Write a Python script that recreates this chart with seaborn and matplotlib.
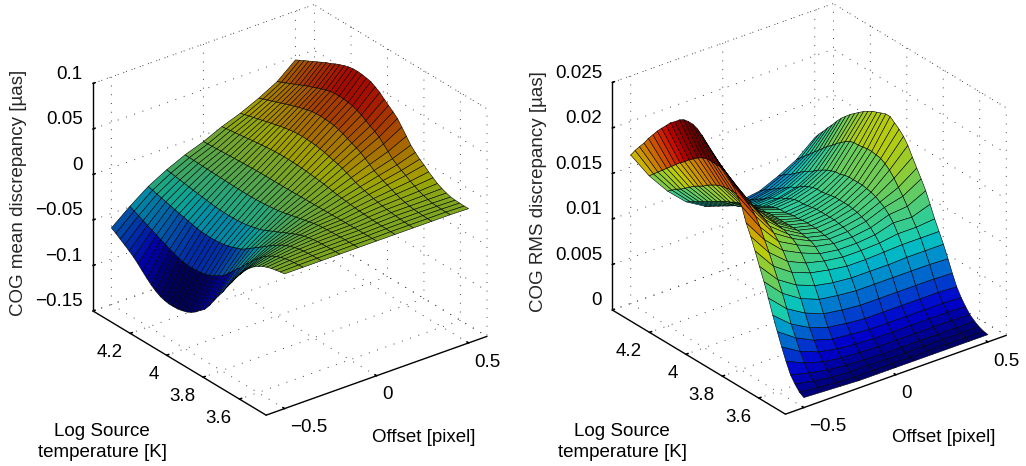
import numpy as np
import matplotlib
matplotlib.use('Agg')
import matplotlib.pyplot as plt
import seaborn as sns
from mpl_toolkits.mplot3d import proj3d

sns.set_theme(style='white', rc={'grid.color': '#444444', 'grid.linestyle': (0, (1, 8)), 'grid.linewidth': 0.7})
plt.rcParams['font.family'] = ['Liberation Sans', 'DejaVu Sans']

offsets = [-0.5, -0.4, -0.3, -0.2, -0.1, 0.0, 0.1, 0.2, 0.3, 0.4, 0.5]

log_temp = [4.404, 4.380, 4.356, 4.331, 4.307, 4.282, 4.258, 4.234, 4.209, 4.185,
            4.161, 4.136, 4.112, 4.088, 4.063, 4.039, 4.014, 3.990, 3.966, 3.941,
            3.917, 3.893, 3.868, 3.844, 3.820, 3.795, 3.771, 3.746, 3.722, 3.698,
            3.673, 3.649, 3.625, 3.600, 3.576, 3.552, 3.527, 3.503, 3.478, 3.454]

# one line per offset, hot end of the temperature range first
mean_disc = [
    [-.066, -.069, -.0725, -.076, -.0795, -.0835, -.088, -.093, -.098, -.1025, -.106, -.109, -.1105, -.1115, -.1115, -.1112, -.110, -.1085, -.106, -.1025, -.098, -.094, -.087, -.079, -.071, -.0635, -.055, -.047, -.039, -.032, -.025, -.0195, -.015, -.0115, -.0085, -.0065, -.0048, -.0038, -.0028, -.002],
    [-.0495, -.0518, -.0541, -.0565, -.0588, -.0612, -.0634, -.0658, -.0676, -.07, -.0718, -.0737, -.0751, -.0758, -.076, -.0758, -.075, -.074, -.0723, -.0698, -.0668, -.0641, -.0593, -.0539, -.0484, -.0433, -.0375, -.0321, -.0266, -.0218, -.017, -.0133, -.0103, -.0078, -.0058, -.0044, -.0033, -.0028, -.0024, -.002],
    [-.0348, -.0361, -.0375, -.0388, -.0401, -.0415, -.0428, -.0441, -.0452, -.0465, -.0476, -.0487, -.0495, -.0499, -.05, -.0499, -.0494, -.0487, -.0476, -.046, -.044, -.0422, -.039, -.0355, -.0319, -.0285, -.0247, -.0211, -.0175, -.0144, -.0112, -.0088, -.0068, -.0052, -.004, -.0032, -.0027, -.0024, -.0022, -.002],
    [-.0237, -.0245, -.0253, -.0261, -.027, -.0278, -.0286, -.0294, -.0301, -.0309, -.0315, -.0322, -.0327, -.0329, -.033, -.0329, -.0326, -.0321, -.0314, -.0303, -.029, -.0278, -.0257, -.0234, -.021, -.0188, -.0163, -.0139, -.0116, -.0095, -.0074, -.0058, -.0046, -.0036, -.003, -.0026, -.0024, -.0022, -.0021, -.002],
    [-.0145, -.0147, -.0149, -.0152, -.0154, -.0156, -.0158, -.016, -.0162, -.0164, -.0166, -.0168, -.0169, -.017, -.017, -.017, -.0168, -.0165, -.0162, -.0156, -.0149, -.0143, -.0133, -.0121, -.0108, -.0097, -.0084, -.0072, -.006, -.0049, -.004, -.0034, -.003, -.0027, -.0025, -.0023, -.0022, -.0021, -.002, -.002],
    [-.0072, -.0069, -.0066, -.0064, -.0061, -.0058, -.0055, -.0052, -.005, -.0047, -.0045, -.0043, -.0041, -.004, -.004, -.004, -.004, -.0039, -.0039, -.0038, -.0037, -.0036, -.0035, -.0034, -.0033, -.0032, -.0031, -.003, -.0029, -.0028, -.0027, -.0026, -.0025, -.0024, -.0023, -.0022, -.0022, -.0021, -.0021, -.002],
    [.002, .0027, .0034, .0041, .0048, .0055, .0062, .0069, .0075, .0082, .0087, .0093, .0097, .0099, .01, .0099, .0098, .0096, .0092, .0088, .0082, .0076, .007, .0063, .0054, .0044, .0034, .0027, .002, .0014, .0008, .0003, -.0002, -.0006, -.001, -.0013, -.0015, -.0017, -.0019, -.002],
    [.0095, .0109, .0122, .0136, .0149, .0163, .0177, .019, .0201, .0215, .0226, .0236, .0245, .0249, .025, .0248, .0245, .0241, .0232, .0222, .0207, .0193, .018, .0165, .0143, .012, .0097, .008, .0065, .0053, .0038, .0027, .0015, .0007, 0, -.0005, -.0012, -.0016, -.0019, -.002],
    [.0188, .0207, .0225, .0244, .0262, .0281, .03, .0318, .0333, .0352, .0366, .0381, .0393, .0399, .04, .0397, .0392, .0387, .0371, .0355, .0331, .0309, .0288, .0264, .0229, .0192, .0155, .0128, .0104, .0085, .0061, .0043, .0024, .0011, 0, -.0008, -.0012, -.0016, -.002, -.002],
    [.0298, .032, .0342, .0364, .0386, .0409, .0431, .0453, .047, .0493, .051, .0528, .0541, .0548, .055, .0546, .0539, .0532, .051, .0488, .0455, .0425, .0396, .0363, .0315, .0264, .0213, .0176, .0143, .0117, .0084, .0059, .0033, .0015, 0, -.0011, -.0015, -.0018, -.002, -.002],
    [.0465, .049, .0515, .054, .0565, .059, .0615, .064, .066, .0685, .0705, .0725, .074, .0748, .075, .0745, .0735, .0725, .0695, .0665, .062, .058, .054, .0495, .043, .036, .029, .024, .0195, .016, .0115, .008, .0045, .002, 0, -.0015, -.002, -.0023, -.0025, -.0025],
]

rms_disc = [
    [.0163, .0171, .0178, .0185, .0193, .02, .0207, .0213, .0219, .0225, .0229, .0234, .0237, .0238, .0238, .0236, .0232, .0227, .0221, .0216, .0212, .0208, .0203, .0198, .0189, .018, .0165, .0153, .014, .0126, .0112, .0097, .0081, .0066, .0052, .0039, .0027, .002, .0014, .0011],
    [.0133, .0138, .0143, .0148, .0153, .0158, .0163, .0168, .0172, .0177, .0181, .0185, .0188, .019, .019, .019, .019, .0188, .0185, .0182, .0178, .0174, .017, .0165, .0159, .015, .0139, .0128, .0116, .0104, .0092, .0078, .0064, .0052, .004, .003, .0022, .0016, .0012, .001],
    [.0109, .0113, .0117, .012, .0124, .0128, .0132, .0135, .0138, .0142, .0145, .0148, .015, .0151, .0152, .0152, .0152, .0152, .0151, .015, .0148, .0145, .0142, .0138, .0133, .0127, .012, .0111, .0102, .0091, .0079, .0066, .0053, .0042, .0032, .0024, .0018, .0013, .001, .0009],
    [.009, .0093, .0096, .0099, .0102, .0105, .0108, .0111, .0114, .0117, .0119, .0122, .0124, .0125, .0125, .0126, .0126, .0126, .0126, .0126, .0126, .0125, .0124, .0122, .012, .0116, .011, .0102, .0094, .0083, .0071, .0058, .0046, .0036, .0028, .0021, .0016, .0012, .0009, .0008],
    [.0078, .0081, .0084, .0087, .009, .0093, .0096, .0099, .0101, .0104, .0107, .0109, .0111, .0112, .0112, .0113, .0113, .0113, .0113, .0113, .0113, .0113, .0112, .0111, .011, .0107, .0102, .0097, .009, .0079, .0068, .0055, .0043, .0034, .0026, .002, .0015, .0012, .0009, .0008],
    [.0072, .0075, .0078, .0081, .0084, .0087, .0089, .0092, .0095, .0097, .01, .0102, .0104, .0105, .0105, .0106, .0107, .0107, .0108, .0108, .0108, .0108, .0107, .0106, .0105, .0103, .0099, .0094, .0087, .0077, .0066, .0053, .0041, .0032, .0025, .0019, .0014, .0011, .0009, .0008],
    [.007, .0073, .0076, .008, .0083, .0086, .009, .0093, .0095, .0099, .0101, .0104, .0106, .0107, .0107, .0108, .0109, .011, .011, .011, .011, .011, .0109, .0108, .0106, .0103, .0099, .0094, .0087, .0077, .0066, .0053, .0041, .0032, .0025, .0019, .0014, .0011, .0009, .0008],
    [.0073, .0077, .008, .0084, .0087, .0091, .0094, .0098, .01, .0104, .0107, .011, .0112, .0113, .0113, .0114, .0115, .0116, .0116, .0116, .0116, .0115, .0114, .0112, .011, .0106, .0101, .0095, .0088, .0077, .0066, .0053, .0041, .0032, .0025, .0019, .0014, .0011, .0009, .0008],
    [.0082, .0086, .009, .0093, .0097, .0101, .0105, .0108, .0111, .0115, .0118, .0121, .0123, .0125, .0125, .0127, .0128, .0128, .0128, .0128, .0127, .0126, .0124, .0121, .0118, .0113, .0107, .0098, .0089, .0078, .0066, .0053, .0041, .0032, .0025, .0019, .0014, .0011, .0009, .0008],
    [.0093, .0098, .0103, .0108, .0113, .0118, .0123, .0128, .0132, .0137, .0141, .0145, .0148, .015, .015, .0151, .0152, .0152, .0151, .015, .0147, .0143, .0137, .013, .0123, .0115, .0106, .0098, .0089, .0078, .0066, .0053, .0041, .0032, .0025, .0019, .0014, .0011, .0009, .0008],
    [.011, .0117, .0123, .013, .0136, .0143, .0149, .0154, .0159, .0163, .0167, .0171, .0174, .0177, .0179, .0181, .0183, .0183, .0179, .0175, .017, .0163, .0153, .0144, .0135, .0125, .0113, .01, .0089, .0078, .0065, .0052, .004, .0031, .0024, .0018, .0014, .0011, .0009, .0008],
]

x_ticks = [-0.5, 0, 0.5]
x_labels = ['\u22120.5', '0', '0.5']
y_ticks = [3.6, 3.8, 4, 4.2]
y_labels = ['3.6', '3.8', '4', '4.2']
mean_ticks = [-0.15, -0.1, -0.05, 0, 0.05, 0.1]
mean_labels = ['\u22120.15', '\u22120.1', '\u22120.05', '0', '0.05', '0.1']
rms_ticks = [0, 0.005, 0.01, 0.015, 0.02, 0.025]
rms_labels = ['0', '0.005', '0.01', '0.015', '0.02', '0.025']

XLIM = (-0.6, 0.6)
YLIM = (3.454, 4.404)
W, H = 1026, 466
DOTS = {'color': '#444444', 'linestyle': (0, (1, 8)), 'linewidth': 0.7, 'zorder': 1}


def place(ax, left_px, right_px, floor_y_px):
    # scale and shift the square axes so the floor corners land on the wanted pixels
    ax.apply_aspect()
    z0 = ax.get_zlim()[0]
    pts = []
    for x, y in [(XLIM[0], YLIM[1]), (XLIM[1], YLIM[0])]:
        xs, ys, _ = proj3d.proj_transform(x, y, z0, ax.get_proj())
        pts.append(ax.transData.transform((xs, ys)))
    pos = ax.get_position()
    side = pos.width * W
    cx, cy = (pos.x0 + pos.width / 2) * W, (pos.y0 + pos.height / 2) * H
    k = (right_px - left_px) / (pts[1][0] - pts[0][0])
    new_side = side * k
    new_cx = left_px - k * (pts[0][0] - cx)
    new_cy = (H - floor_y_px) - k * (pts[0][1] - cy)
    ax.set_position([(new_cx - new_side / 2) / W, (new_cy - new_side / 2) / H, new_side / W, new_side / H])


def draw_panel(fig, z_values, z_ticks, z_labels, zlabel, pixels, dim):
    ax = fig.add_axes([0.1, 0.1, 400 / W, 400 / H], projection='3d', proj_type='ortho', computed_zorder=False)
    X, Y = np.meshgrid(offsets, log_temp, indexing='ij')
    Z = np.array(z_values)
    cmap = plt.get_cmap('jet')
    colors = cmap((Z - Z.min()) / (Z.max() - Z.min()))
    colors[..., :3] *= dim  # the original mesh is so dense that it darkens the faces
    ax.plot_surface(X, Y, Z, facecolors=colors, rstride=1, cstride=1, shade=False,
                    edgecolor='black', linewidth=0.4, zorder=5)

    ax.set_xlim(*XLIM, view_margin=0)
    ax.set_ylim(*YLIM, view_margin=0)
    ax.set_zlim(z_ticks[0], z_ticks[-1], view_margin=0)
    ax.set_box_aspect((279, 284, 257))
    ax.view_init(elev=27.6, azim=-127.6)

    ax.set_xticks(x_ticks, x_labels, fontsize=13.5)
    ax.set_yticks(y_ticks, y_labels, fontsize=13.5)
    ax.set_zticks(z_ticks, z_labels, fontsize=13.5)
    ax.zaxis.set_ticks_position('upper')
    ax.zaxis.set_label_position('upper')

    for axis in [ax.xaxis, ax.yaxis, ax.zaxis]:
        axis.set_pane_color((1, 1, 1, 0))
        axis.pane.set_edgecolor('none')
        axis.line.set_color('black')
        axis.line.set_linewidth(1.0)
        axis._axinfo['tick']['inward_factor'] = 0.0
        axis._axinfo['tick']['outward_factor'] = 0.12
        axis._axinfo['tick']['color'] = 'black'
    ax.tick_params(colors='black')
    ax.tick_params(axis='x', pad=-2.5)
    ax.tick_params(axis='y', pad=-2)
    ax.tick_params(axis='z', pad=-3.5)
    for lab in ax.xaxis.get_majorticklabels():
        lab.set_ha('left')
    for lab in ax.yaxis.get_majorticklabels():
        lab.set_ha('right')
    for lab in ax.zaxis.get_majorticklabels():
        lab.set_ha('right')
        lab.set_va('bottom')

    # dotted edges of the box
    zb, zt = z_ticks[0], z_ticks[-1]
    ax.plot([XLIM[0], XLIM[1], XLIM[1], XLIM[1], XLIM[1], XLIM[0]],
            [YLIM[1], YLIM[1], YLIM[0], YLIM[0], YLIM[1], YLIM[1]],
            [zb, zb, zb, zt, zt, zt], **DOTS)
    ax.plot([XLIM[1], XLIM[1]], [YLIM[1], YLIM[1]], [zb, zt], **DOTS)

    ax.zaxis.set_rotate_label(False)
    ax.set_zlabel(zlabel, fontsize=13.5, rotation=90, labelpad=11.5)
    place(ax, *pixels)
    return ax


fig = plt.figure(figsize=(W / 100, H / 100), dpi=100)
draw_panel(fig, mean_disc, mean_ticks, mean_labels, 'COG mean discrepancy [\u00b5as]', (93, 487, 311), 0.65)
draw_panel(fig, rms_disc, rms_ticks, rms_labels, 'COG RMS discrepancy [\u00b5as]', (612.3, 1006.3, 310), 0.8)

for dx in [0, 520]:
    fig.text((424 + dx) / W, 1 - 437 / H, 'Offset [pixel]', ha='center', va='center', fontsize=13.5, color='black')
    fig.text((102 + dx) / W, 1 - 442 / H, 'Log Source\ntemperature [K]', ha='center', va='center',
             fontsize=13.5, color='black', linespacing=1.25)

fig.savefig('out.png', dpi=100)
